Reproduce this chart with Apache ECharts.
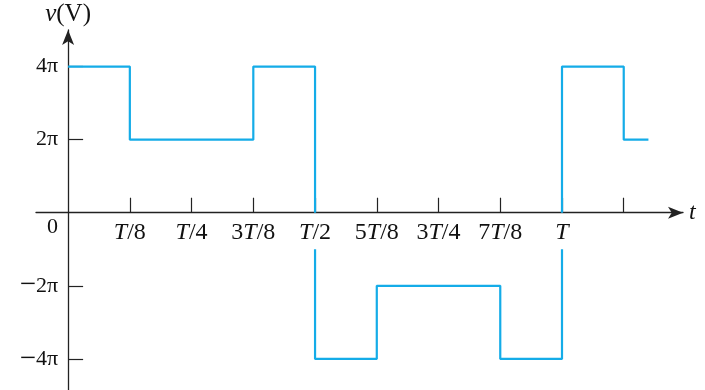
<!DOCTYPE html>
<html><head><meta charset="utf-8">
<script src="https://cdn.jsdelivr.net/npm/echarts@6/dist/echarts.min.js"></script>
<style>html,body{margin:0;padding:0;background:#fff}#c{width:705px;height:390px}</style>
</head><body><div id="c"></div>
<script>
// time in units of T/8, voltage in units of pi; null marks a break in the drawn line
const tPoints = [0, 1, 1, 3, 3, 4, 4, null, 4, 4, 5, 5, 7, 7, 8, 8, null, 8, 8, 9, 9, 9.4];
const vPoints = [4, 4, 2, 2, 4, 4, 0, null, -1, -4, -4, -2, -2, -4, -4, -1, null, 0, 4, 4, 2, 2];
const xTickValues = [1, 2, 3, 4, 5, 6, 7, 8, 9];
const xLabelValues = [1, 2, 3, 4, 5, 6, 7, 8];
const xLabelTexts = ['{i|T}/8', '{i|T}/4', '3{i|T}/8', '{i|T}/2', '5{i|T}/8', '3{i|T}/4', '7{i|T}/8', '{i|T}'];
const yTickValues = [-4, -2, 2, 4];
const yLabelValues = [-4, -2, 0, 2, 4];
const yLabelTexts = {'-4': '{m|\u2212}4\u03c0', '-2': '{m|\u2212}2\u03c0', '0': '{z|0}', '2': '2\u03c0', '4': '4\u03c0'};

const xMin = -0.52, xMax = 9.96, yMin = -4.85, yMax = 5;
const data = tPoints.map((t, i) => t === null ? ['-', '-'] : [t, vPoints[i]]);
const serif = 'Liberation Serif';
const axisCol = '#222';
const W = 705, H = 390, gl = 36, gr = 22, gt = 30, gb = 0;
// move each axis from the grid edge onto the other axis's zero
const xOffset = -((0 - yMin) / (yMax - yMin)) * (H - gt - gb);
const yOffset = -((0 - xMin) / (xMax - xMin)) * (W - gl - gr);

const chart = echarts.init(document.getElementById('c'));
chart.setOption({
  animation: false,
  grid: {left: gl, right: gr, top: gt, bottom: gb, containLabel: false, outerBoundsMode: 'none'},
  xAxis: {
    type: 'value', min: xMin, max: xMax, position: 'bottom', offset: xOffset,
    splitLine: {show: false},
    axisLine: {onZero: false, lineStyle: {color: axisCol, width: 1.3}, symbol: ['none', 'arrow'], symbolSize: [9, 15]},
    axisTick: {show: true, inside: true, length: 15, lineStyle: {color: axisCol, width: 1.2}, customValues: xTickValues},
    axisLabel: {
      customValues: xLabelValues, margin: 8,
      fontFamily: serif, fontSize: 24, color: '#111',
      formatter: v => xLabelTexts[Math.round(v) - 1],
      rich: {i: {fontStyle: 'italic', fontFamily: serif, fontSize: 24, color: '#111'}}
    },
    name: 't', nameLocation: 'end', nameGap: 6,
    nameTextStyle: {fontFamily: serif, fontStyle: 'italic', fontSize: 24, color: '#111', verticalAlign: 'middle', padding: [0, 0, 4, 0]}
  },
  yAxis: {
    type: 'value', min: yMin, max: yMax, position: 'left', offset: yOffset,
    splitLine: {show: false},
    axisLine: {onZero: false, lineStyle: {color: axisCol, width: 1.3}, symbol: ['none', 'arrow'], symbolSize: [9, 15]},
    axisTick: {show: true, inside: true, length: 15, lineStyle: {color: axisCol, width: 1.2}, customValues: yTickValues},
    axisLabel: {
      customValues: yLabelValues, margin: 10,
      fontFamily: serif, fontSize: 22, color: '#111',
      formatter: v => yLabelTexts[String(Math.round(v))],
      rich: {
        z: {fontFamily: serif, fontSize: 22, color: '#111', padding: [28, 0, 0, 0]},
        m: {fontFamily: serif, fontSize: 29, color: '#111'}
      }
    },
    name: '{i|v}(V)', nameLocation: 'end', nameGap: 3,
    nameTextStyle: {fontFamily: serif, fontSize: 25, color: '#111', align: 'center',
      rich: {i: {fontFamily: serif, fontStyle: 'italic', fontSize: 25, color: '#111'}}}
  },
  series: [{
    type: 'line', data: data, symbol: 'none', connectNulls: false,
    lineStyle: {color: '#14ACE8', width: 2.2}, z: 3
  }]
});
</script></body></html>
